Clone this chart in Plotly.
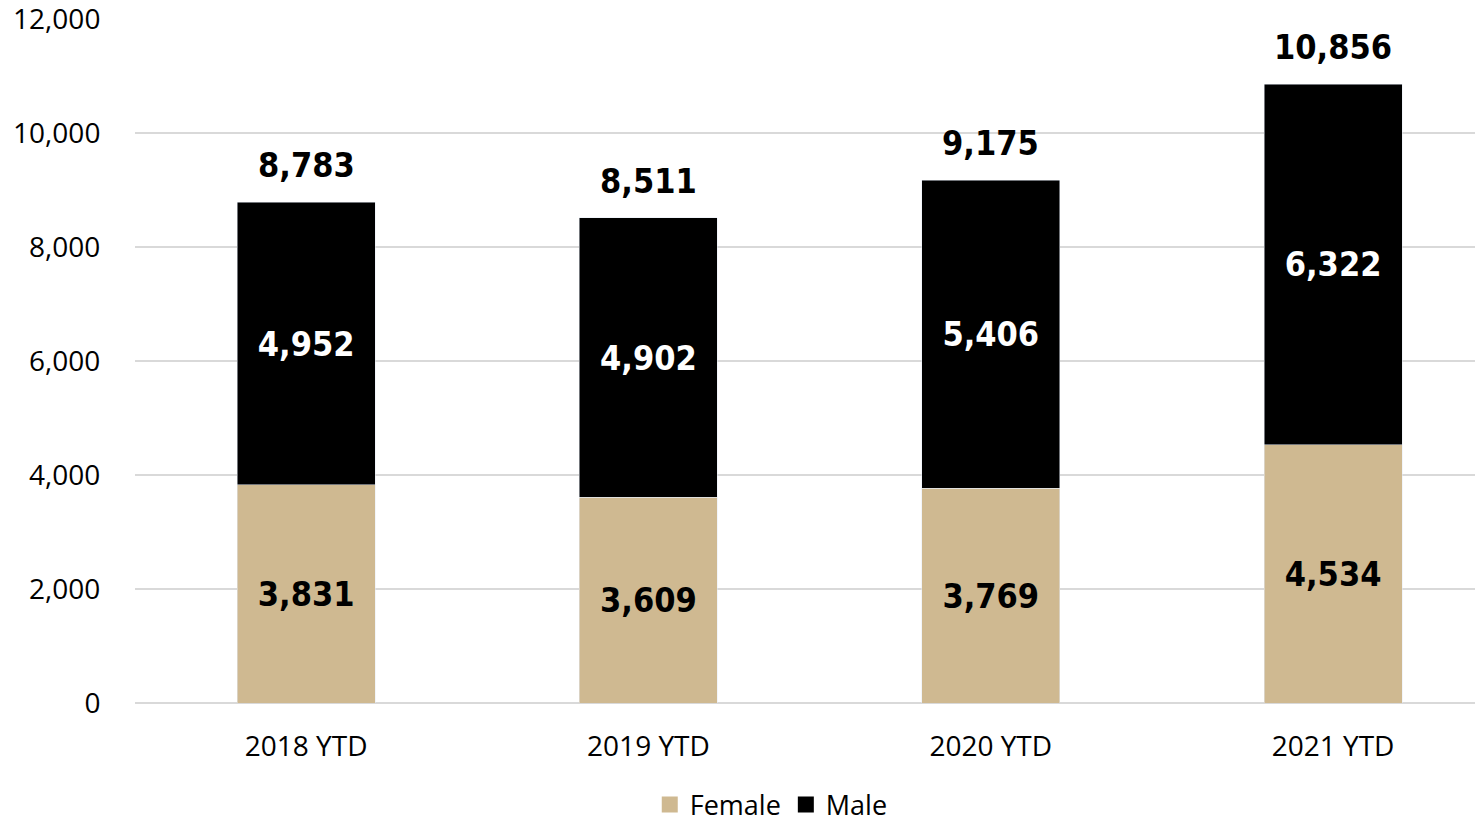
import plotly.graph_objects as go

categories = ["2018 YTD", "2019 YTD", "2020 YTD", "2021 YTD"]
female = [3831, 3609, 3769, 4534]
male = [4952, 4902, 5406, 6322]
totals = [8783, 8511, 9175, 10856]
y_ticks = [0, 2000, 4000, 6000, 8000, 10000, 12000]

TAN = "#CFB991"
LABEL_FONT = "DejaVu Sans Condensed"
AXIS_FONT = "Open Sans"
LBL_SIZE = 34

fig = go.Figure()
fig.add_trace(go.Bar(
    name="Female", x=categories, y=female, marker_color=TAN, width=0.403, showlegend=False,
    text=[f"{v:,}" for v in female], textposition="inside", insidetextanchor="middle",
    textfont=dict(family=LABEL_FONT, size=LBL_SIZE, color="black", weight="bold"),
    constraintext="none", textangle=0,
))
fig.add_trace(go.Bar(
    name="Male", x=categories, y=male, marker_color="black", width=0.403, showlegend=False,
    text=[f"{v:,}" for v in male], textposition="inside", insidetextanchor="middle",
    textfont=dict(family=LABEL_FONT, size=LBL_SIZE, color="white", weight="bold"),
    constraintext="none", textangle=0,
))
# legend entries with larger square swatches
for nm, col in [("Female", TAN), ("Male", "black")]:
    fig.add_trace(go.Scatter(x=[None], y=[None], mode="markers", name=nm,
                             marker=dict(symbol="square", size=19, color=col)))

for c, t in zip(categories, totals):
    fig.add_annotation(x=c, y=t, text=f"{t:,}", showarrow=False, yanchor="middle", yshift=37,
                       font=dict(family=LABEL_FONT, size=LBL_SIZE, color="black", weight="bold"))

fig.update_layout(
    barmode="stack",
    width=1475, height=812,
    margin=dict(l=127, r=0, t=11, b=117, autoexpand=False),
    plot_bgcolor="white", paper_bgcolor="white",
    font=dict(family=AXIS_FONT, size=28, color="black"),
    legend=dict(orientation="h", x=0.472, xanchor="center", y=-0.149, yanchor="middle",
                traceorder="normal", font=dict(family=AXIS_FONT, size=27, color="black"),
                itemclick=False, itemwidth=30),
    showlegend=True,
)
fig.update_xaxes(range=[-0.5, 3.438], showgrid=False, showline=False, automargin=False,
                 ticks="outside", ticklen=18, tickcolor="rgba(0,0,0,0)",
                 tickfont=dict(family=AXIS_FONT, size=28, color="black"))
fig.update_yaxes(range=[0, 12000], tickvals=y_ticks, tickformat=",", showgrid=True, automargin=False,
                 gridcolor="#D9D9D9", gridwidth=2, zeroline=True, zerolinecolor="#D9D9D9",
                 zerolinewidth=2, ticks="outside", ticklen=28, tickcolor="rgba(0,0,0,0)",
                 ticklabeloverflow="allow",
                 tickfont=dict(family=AXIS_FONT, size=28, color="black"))

fig.write_html("out.html")
